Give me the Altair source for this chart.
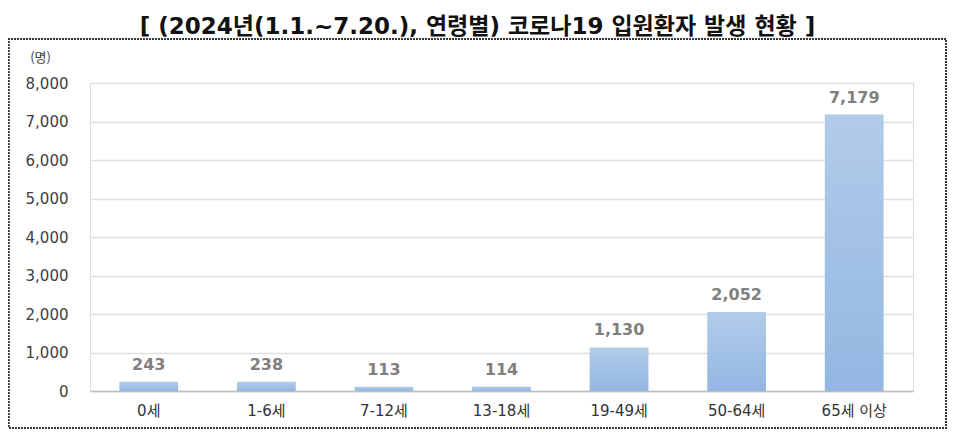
import altair as alt
import pandas as pd

categories = ["0세", "1-6세", "7-12세", "13-18세", "19-49세", "50-64세", "65세 이상"]
values = [243, 238, 113, 114, 1130, 2052, 7179]
labels = ["243", "238", "113", "114", "1,130", "2,052", "7,179"]
y_ticks = [0, 1000, 2000, 3000, 4000, 5000, 6000, 7000, 8000]

df = pd.DataFrame({"age": categories, "count": values, "label": labels})

FONT = "DejaVu Sans, Noto Sans CJK KR"
KFONT = "Noto Sans CJK KR"

x_enc = alt.X("age:N", sort=categories, title=None,
              scale=alt.Scale(paddingInner=0.5, paddingOuter=0.25),
              axis=alt.Axis(labelAngle=0, labelFontSize=15, labelColor="#333333",
                            labelFont=FONT, ticks=False, domainColor="#bfbfbf",
                            domainWidth=1.5, labelPadding=12, grid=False))
y_enc = alt.Y("count:Q", scale=alt.Scale(domain=[0, 8000]),
              axis=alt.Axis(values=y_ticks, labelExpr="format(datum.value, ',')",
                            labelOverlap=False,
                            labelFontSize=15, labelColor="#404040", labelFont=FONT,
                            ticks=False, domain=False, gridColor="#e0e0e0",
                            gridWidth=1.3, labelPadding=22,
                            title="(명)", titleAngle=0, titleX=-50, titleY=-26,
                            titleAlign="center", titleBaseline="middle",
                            titleFontSize=13, titleFontWeight="normal",
                            titleColor="#404040", titleFont=KFONT))

bars = alt.Chart(df).mark_bar(
    color=alt.Gradient(gradient="linear",
                       stops=[alt.GradientStop(color="#b2cbe9", offset=0),
                              alt.GradientStop(color="#93b7e2", offset=1)],
                       x1=0, x2=0, y1=0, y2=1)
).encode(x=x_enc, y=y_enc)

text = alt.Chart(df).mark_text(
    baseline="bottom", dy=-9, fontSize=16, fontWeight="bold",
    color="#808080", font=FONT
).encode(x=x_enc, y=y_enc, text="label:N")

border = alt.Chart(df).mark_rect(
    fill=None, stroke="#333333", strokeDash=[1.5, 1.5], strokeWidth=1.5
).encode(x=alt.value(-81.5), x2=alt.value(856), y=alt.value(-44), y2=alt.value(345))

chart = alt.layer(border, bars, text).properties(
    width=823, height=308,
    autosize=alt.AutoSizeParams(type="none"),
    padding={"left": 82, "top": 75, "right": 35, "bottom": 38},
    title=alt.TitleParams(
        "[ (2024년(1.1.~7.20.), 연령별) 코로나19 입원환자 발생 현황 ]",
        anchor="middle", fontSize=23, fontWeight="bold", color="#111111",
        font=FONT, dx=-24, offset=-1),
).configure_view(stroke=None).configure(background="white")

chart.save("out.html", embed_options={"renderer": "svg", "actions": False})
